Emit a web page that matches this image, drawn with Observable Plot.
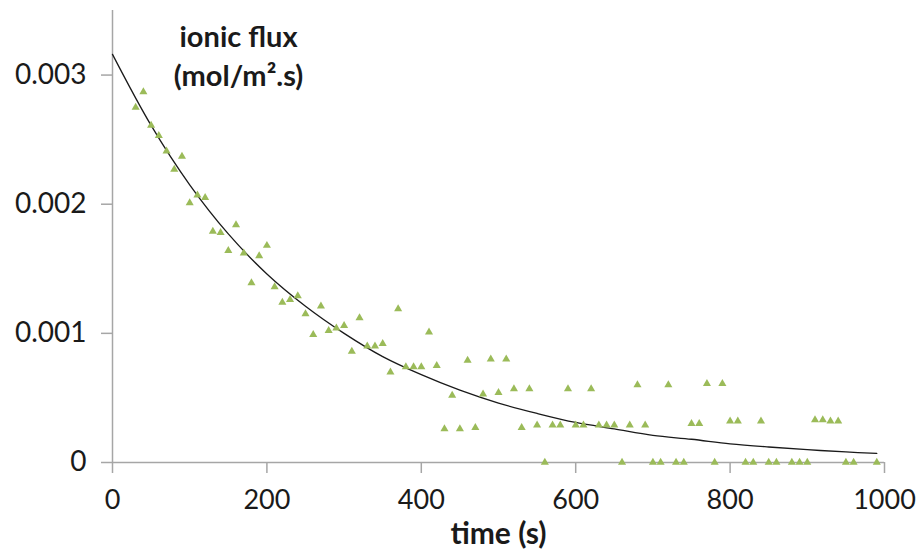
<!DOCTYPE html>
<html>
<head>
<meta charset="utf-8">
<script src="https://cdn.jsdelivr.net/npm/d3@7"></script>
<script src="https://cdn.jsdelivr.net/npm/@observablehq/plot@0.6"></script>
<style>
  html, body { margin: 0; padding: 0; background: #fff; }
  #chart { width: 919px; height: 553px; }
</style>
</head>
<body>
<div id="chart"></div>
<script>
// measured points: time (s)
const timeS = [30,40,50,60,70,80,90,100,110,120,130,140,150,160,170,180,190,200,210,220,
  230,240,250,260,270,280,290,300,310,320,330,340,350,360,370,380,390,400,410,420,
  430,440,450,460,470,480,490,500,510,520,530,540,550,560,570,580,590,600,610,620,
  630,640,650,660,670,680,690,700,710,720,730,740,750,760,770,780,790,800,810,820,
  830,840,850,860,880,890,900,910,920,930,940,950,960,990];
// measured points: ionic flux (mol/m².s)
const flux = [0.00275,0.00287,0.00261,0.00253,0.00241,0.00227,0.00237,0.00201,0.00207,0.00205,
  0.00179,0.00178,0.00164,0.00184,0.00162,0.00139,0.00160,0.00168,0.00136,0.00124,
  0.00126,0.00129,0.00115,0.00099,0.00121,0.00102,0.00104,0.00106,0.00086,0.00112,
  0.00090,0.00090,0.00092,0.00070,0.00119,0.00074,0.00074,0.00074,0.00101,0.00075,
  0.00026,0.00052,0.00026,0.00079,0.00027,0.00053,0.00080,0.00054,0.00080,0.00057,
  0.00027,0.00057,0.00029,0,0.00029,0.00029,0.00057,0.00029,0.00029,0.00057,
  0.00029,0.00029,0.00029,0,0.00029,0.00060,0.00029,0,0,0.00060,
  0,0,0.00030,0.00030,0.00061,0,0.00061,0.00032,0.00032,0,
  0,0.00032,0,0,0,0,0,0.00033,0.00033,0.00032,0.00032,0,0,0];

// fitted trend line
const fitT = [0,50,100,150,200,250,300,350,400,450,500,550,600,650,700,750,800,850,900,950,990];
const fitV = [0.00316,0.00261,0.00215,0.00177,0.00146,0.00121,0.00100,0.00082,0.00068,0.00056,
  0.00046,0.00038,0.00031,0.00026,0.00021,0.00018,0.000145,0.00012,0.000099,0.000082,0.00007];

const xTicks = [0,200,400,600,800,1000];
const yTicks = [0,0.001,0.002,0.003];
const titleText = "ionic flux\n(mol/m².s)";
const xLabel = "time (s)";

const points = timeS.map((t, i) => ({t, v: flux[i]}));
const fit = fitT.map((t, i) => ({t, v: fitV[i]}));

const axisGray = "#a6a6a6";
const green = "#9bbb59";

const chart = Plot.plot({
  width: 919,
  height: 553,
  marginLeft: 112,
  marginRight: 35,
  marginTop: 10,
  marginBottom: 91,
  style: {fontFamily: "Lato, 'Open Sans', sans-serif", fontSize: "27px", color: "#1a1a1a", background: "#fff"},
  x: {domain: [0, 1000]},
  y: {domain: [0, 0.0035]},
  marks: [
    Plot.ruleY([0], {stroke: axisGray, strokeWidth: 1.5}),
    Plot.ruleX([0], {stroke: axisGray, strokeWidth: 1.5}),
    Plot.axisX({ticks: xTicks, tickSize: 11, tickPadding: 16, stroke: axisGray, strokeWidth: 1.5, fill: "#1a1a1a", fontSize: 27, label: null, tickFormat: d => String(d)}),
    Plot.axisY({ticks: yTicks, tickSize: 11, tickPadding: 15, stroke: axisGray, strokeWidth: 1.5, fill: "#1a1a1a", fontSize: 28, label: null,
      tickFormat: d => d === 0 ? "0" : d3.format(".3f")(d)}),
    Plot.line(fit, {x: "t", y: "v", curve: "catmull-rom", stroke: "#1a1a1a", strokeWidth: 1.3}),
    Plot.dot(points, {x: "t", y: "v", symbol: "triangle", r: 3, fill: green, stroke: null}),
    Plot.text([titleText], {frameAnchor: "top-left", dx: 126, dy: 9, lineAnchor: "top", textAnchor: "middle",
      fontWeight: "bold", fontSize: 29, lineHeight: 1.35, fill: "#1a1a1a"}),
    Plot.text([xLabel], {frameAnchor: "bottom", dy: 81, textAnchor: "middle", fontWeight: "bold", fontSize: 30, fill: "#1a1a1a"})
  ]
});
document.getElementById("chart").appendChild(chart);
</script>
</body>
</html>
